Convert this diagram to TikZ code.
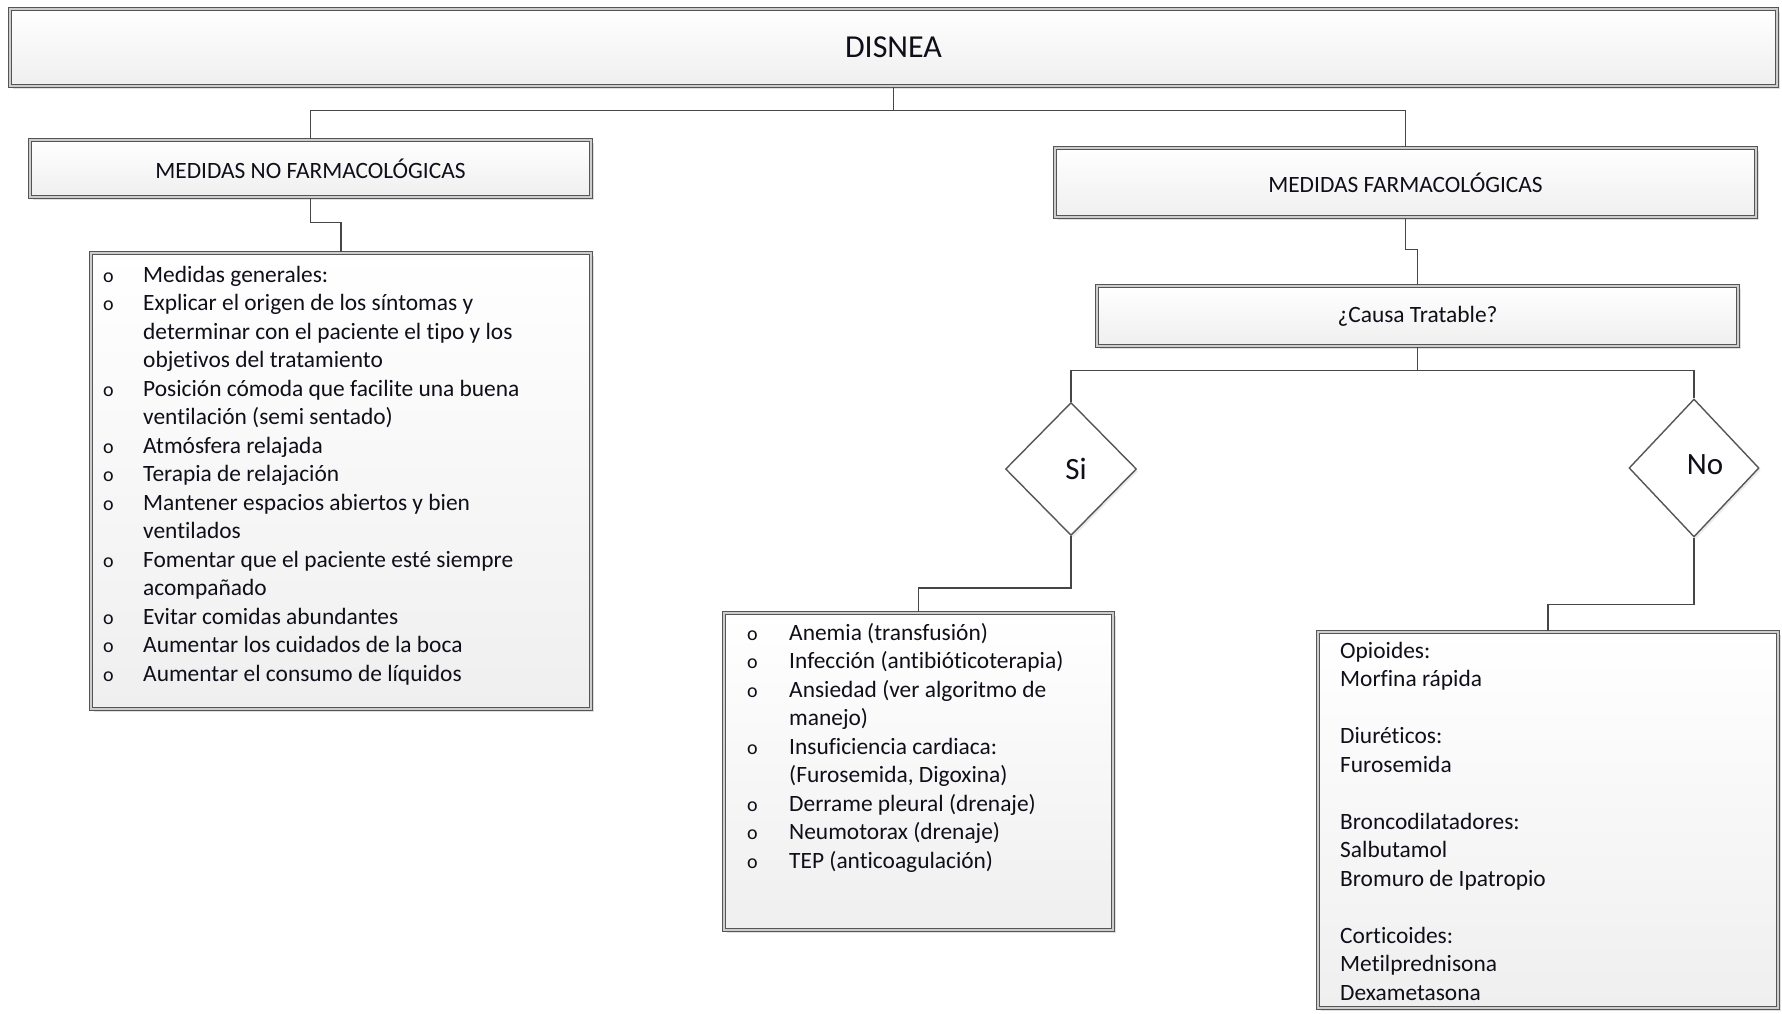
\documentclass[tikz,border=0pt]{standalone}
\usepackage{fontspec}
\setmainfont{Carlito}[Ligatures=NoCommon]
\usetikzlibrary{shapes.geometric,shadows}
\definecolor{boxline}{RGB}{85,85,85}
\definecolor{boxgap}{RGB}{205,205,205}
\definecolor{linecol}{RGB}{70,70,70}
\definecolor{boxbot}{RGB}{239,239,239}
\definecolor{txtcol}{RGB}{15,15,25}
\newcommand\bodyfont{\fontsize{23.4}{28.5}\selectfont}
\newcommand\titlefont{\fontsize{32}{38}\selectfont}
\newcommand\diafont{\fontsize{31}{36}\selectfont}
\newcommand\bul{{\fontsize{20}{28.5}\selectfont o}}
\tikzset{
  box/.style={rectangle, draw=boxline, double=boxgap, double distance=1.6pt,
    line width=1.2pt, top color=white, bottom color=boxbot, inner sep=0pt,
    text=txtcol, font=\bodyfont,
    drop shadow={shadow xshift=3pt, shadow yshift=-3pt, fill=black, opacity=0.12}},
  dia/.style={diamond, draw=boxline, line width=1.4pt, fill=white, inner sep=0pt,
    drop shadow={shadow xshift=2pt, shadow yshift=-2pt, fill=black, opacity=0.08}},
  diatext/.style={text=txtcol, font=\diafont, inner sep=0pt},
  listtext/.style={anchor=north west, inner sep=0pt, text=txtcol, font=\bodyfont, align=left},
  conn/.style={draw=linecol, line width=1.5pt}
}
\begin{document}
\begin{tikzpicture}[x=1pt,y=-1pt]
\fill[white] (0,0) rectangle (1782,1013);
\useasboundingbox (0,0) rectangle (1782,1013);

% boxes
\node[box, minimum width=1767pt, minimum height=77pt, font=\titlefont] (title) at (893.5,47.5) {DISNEA};
\node[box, minimum width=561pt, minimum height=57pt] (mno) at (310.5,168.5) {MEDIDAS NO FARMACOLÓGICAS};
\node[box, minimum width=500pt, minimum height=456pt] (list1) at (341,481) {};
\node[box, minimum width=701pt, minimum height=69pt] (mfarm) at (1405.5,182.5) {MEDIDAS FARMACOLÓGICAS};
\node[box, minimum width=641pt, minimum height=60pt] (causa) at (1417.5,316) {¿Causa Tratable?};
\node[box, minimum width=389pt, minimum height=317pt] (silist) at (918.5,771.5) {};
\node[box, minimum width=460pt, minimum height=376pt] (nobox) at (1548,820) {};

% diamonds
\node[dia, minimum width=131pt, minimum height=133pt] (si) at (1071,469) {};
\node[diatext] (sit) at (1076,469) {Si};
\node[dia, minimum width=130pt, minimum height=138pt] (no) at (1694,468) {};
\node[diatext] (not) at (1705,465) {No};

% list texts
\node[listtext] (l1t) at (103,262) {%
\begin{tabular}{@{}p{40pt}@{}l@{}}
\bul & Medidas generales:\\
\bul & Explicar el origen de los síntomas y\\
  & determinar con el paciente el tipo y los\\
  & objetivos del tratamiento\\
\bul & Posición cómoda que facilite una buena\\
  & ventilación (semi sentado)\\
\bul & Atmósfera relajada\\
\bul & Terapia de relajación\\
\bul & Mantener espacios abiertos y bien\\
  & ventilados\\
\bul & Fomentar que el paciente esté siempre\\
  & acompañado\\
\bul & Evitar comidas abundantes\\
\bul & Aumentar los cuidados de la boca\\
\bul & Aumentar el consumo de líquidos
\end{tabular}};

\node[listtext] (sit2) at (747,620) {%
\begin{tabular}{@{}p{42pt}@{}l@{}}
\bul & Anemia (transfusión)\\
\bul & Infección (antibióticoterapia)\\
\bul & Ansiedad (ver algoritmo de\\
  & manejo)\\
\bul & Insuficiencia cardiaca:\\
  & (Furosemida, Digoxina)\\
\bul & Derrame pleural (drenaje)\\
\bul & Neumotorax (drenaje)\\
\bul & TEP (anticoagulación)
\end{tabular}};

\node[listtext] (not2) at (1340,638) {%
\begin{tabular}{@{}l@{}}
Opioides:\\
Morfina rápida\\
\\
Diuréticos:\\
Furosemida\\
\\
Broncodilatadores:\\
Salbutamol\\
Bromuro de Ipatropio\\
\\
Corticoides:\\
Metilprednisona\\
Dexametasona
\end{tabular}};

% connectors
\draw[conn] (title.south) -- ++(0,24) coordinate (j1) -| (mno.north);
\draw[conn] (j1) -| (mfarm.north);
\draw[conn] (mno.south) -- ++(0,25) -| (list1.north);
\draw[conn] (mfarm.south) -- ++(0,32) -| (causa.north);
\draw[conn] (causa.south) -- ++(0,24) coordinate (j2) -| (si.north);
\draw[conn] (j2) -| (no.north);
\draw[conn] (si.south) -- ++(0,52) -| (silist.north);
\draw[conn] (no.south) -- ++(0,67) -| (nobox.north);
\end{tikzpicture}
\end{document}
